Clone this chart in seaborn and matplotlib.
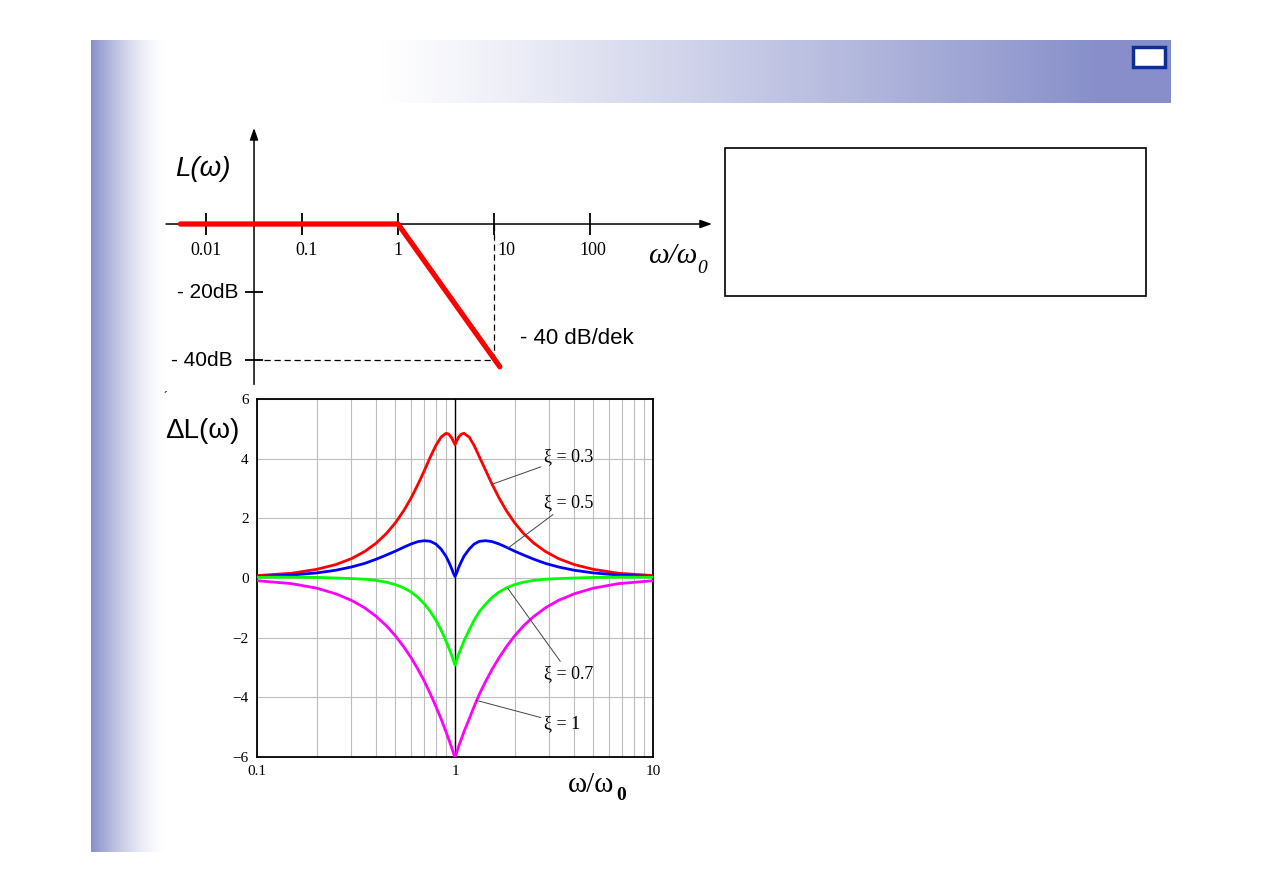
import numpy as np
import pandas as pd
import matplotlib
matplotlib.use("Agg")
import matplotlib.pyplot as plt
import seaborn as sns
from matplotlib.patches import Rectangle

# upper sketch: asymptotic L(w) of a 2nd order lag
asym_omega = [0.0054, 1.0, 11.5]
asym_L = [0.0, 0.0, -42.0]
top_ticks = [0.01, 0.1, 1, 10, 100]
top_tick_labels = ["0.01", "0.1", "1", "10", "100"]
db_ticks = [-20, -40]
db_tick_labels = ["- 20dB", "- 40dB"]

# lower chart: correction dL(w) for several damping ratios
omega = [0.1, 0.15, 0.2, 0.25, 0.3, 0.35, 0.4, 0.45, 0.5, 0.55, 0.6, 0.65, 0.7,
         0.75, 0.8, 0.85, 0.9, 0.93, 0.96, 0.98, 1.0, 1.02, 1.04, 1.075, 1.11,
         1.18, 1.25, 1.33, 1.43, 1.54, 1.67, 1.82, 2.0, 2.22, 2.5, 2.86, 3.33,
         4.0, 5.0, 6.67, 10.0]
dL_03 = [0.08, 0.16, 0.29, 0.45, 0.65, 0.89, 1.17, 1.49, 1.85, 2.25, 2.68, 3.14,
         3.60, 4.05, 4.44, 4.72, 4.85, 4.82, 4.71, 4.59, 4.47, 4.59, 4.71, 4.82,
         4.85, 4.72, 4.44, 4.05, 3.60, 3.14, 2.68, 2.25, 1.85, 1.49, 1.17, 0.89,
         0.65, 0.45, 0.29, 0.16, 0.08]
dL_05 = [0.05, 0.10, 0.17, 0.26, 0.37, 0.49, 0.63, 0.77, 0.90, 1.03, 1.14, 1.22,
         1.25, 1.23, 1.14, 0.97, 0.73, 0.54, 0.33, 0.17, 0.05, 0.17, 0.33, 0.54,
         0.73, 0.97, 1.14, 1.23, 1.25, 1.22, 1.14, 1.03, 0.90, 0.77, 0.63, 0.49,
         0.37, 0.26, 0.17, 0.10, 0.05]
dL_07 = [0.03, 0.03, 0.02, 0.0, -0.02, -0.04, -0.08, -0.14, -0.22, -0.33, -0.47,
         -0.65, -0.87, -1.12, -1.41, -1.74, -2.11, -2.34, -2.58, -2.75, -2.92,
         -2.75, -2.58, -2.34, -2.11, -1.74, -1.41, -1.12, -0.87, -0.65, -0.47,
         -0.33, -0.22, -0.14, -0.08, -0.04, -0.02, 0.0, 0.02, 0.03, 0.03]
dL_10 = [-0.09, -0.19, -0.34, -0.53, -0.75, -1.00, -1.29, -1.60, -1.94, -2.30,
         -2.67, -3.06, -3.46, -3.88, -4.30, -4.72, -5.15, -5.41, -5.67, -5.85,
         -6.02, -5.85, -5.67, -5.41, -5.15, -4.72, -4.30, -3.88, -3.46, -3.06,
         -2.67, -2.30, -1.94, -1.60, -1.29, -1.00, -0.75, -0.53, -0.34, -0.19,
         -0.09]
xi_names = ["ξ = 0.3", "ξ = 0.5", "ξ = 0.7", "ξ = 1"]
xi_colors = ["#ff0000", "#0000ff", "#00ff00", "#ff00ff"]
y_ticks = [6, 4, 2, 0, -2, -4, -6]
y_tick_labels = ["6", "4", "2", "0", "\u22122", "\u22124", "\u22126"]
x_ticks = [0.1, 1, 10]
x_tick_labels = ["0.1", "1", "10"]

sns.set_style("white")
plt.rcParams["font.family"] = ["Liberation Sans", "DejaVu Sans"]
plt.rcParams["text.color"] = "black"
plt.rcParams["xtick.color"] = "black"
plt.rcParams["ytick.color"] = "black"

W, H = 1263, 893
fig = plt.figure(figsize=(W / 100, H / 100), dpi=100, facecolor="white")


def px_axes(x0, y0, x1, y1, **kw):
    return fig.add_axes([x0 / W, 1 - y1 / H, (x1 - x0) / W, (y1 - y0) / H], **kw)


# slide background
bg = px_axes(0, 0, W, H, zorder=-5)
bg.set_xlim(0, W)
bg.set_ylim(H, 0)
bg.axis("off")
blue = np.array([0.53, 0.56, 0.79])
white = np.ones(3)
xs = np.linspace(91, 1171, 600)
t = (np.clip((xs - 380) / 720, 0, 1) ** 1.1)[:, None]
band = (white * (1 - t) + blue * t)[None, :, :]
bg.imshow(band, extent=(91, 1171, 103, 40), aspect="auto", interpolation="bilinear")
s = np.linspace(0, 1, 200)
tl = ((1 - s) ** 1.5)[:, None]
strip = (white * (1 - tl) + blue * tl)[None, :, :]
bg.imshow(strip, extent=(91, 165, 852, 40), aspect="auto", interpolation="bilinear")
bg.add_patch(Rectangle((1133, 47), 32, 20, facecolor="white", edgecolor="#0d2f8f", lw=2.5))
bg.add_patch(Rectangle((725, 148), 421, 148, fill=False, edgecolor="black", lw=1.2))
bg.text(166, 398, "\u00b4", fontsize=9, ha="center", va="center")

# ---- upper sketch ----
ax1 = px_axes(166, 128, 712, 387)
ax1.set_xscale("log")
ax1.set_xlim(10 ** -2.417, 10 ** 3.271)
ax1.set_ylim(-47.94, 28.24)
ax1.axis("off")
yaxis_x = 10 ** -1.5

ax1.annotate("", xy=(1, 0), xytext=(0, 0), xycoords=("axes fraction", "data"),
             arrowprops=dict(arrowstyle="-|>,head_length=0.7,head_width=0.25",
                             color="black", lw=1.1, shrinkA=0, shrinkB=0))
ax1.annotate("", xy=(yaxis_x, 1), xytext=(yaxis_x, 0.01), xycoords=("data", "axes fraction"),
             arrowprops=dict(arrowstyle="-|>,head_length=0.7,head_width=0.25",
                             color="black", lw=1.1, shrinkA=0, shrinkB=0))
ax1.vlines(top_ticks, -3.3, 3.3, color="black", lw=1.3)
ax1.hlines(db_ticks, 10 ** (-1.5 - 9 / 96), 10 ** (-1.5 + 9 / 96), color="black", lw=1.3)
ax1.plot([top_ticks[3], top_ticks[3]], [0, db_ticks[1]], color="black", lw=0.9,
         dashes=(5, 3))
ax1.plot([10 ** -1.4, top_ticks[3]], [db_ticks[1], db_ticks[1]], color="black", lw=0.9,
         dashes=(5, 3))
sns.lineplot(x=asym_omega, y=asym_L, ax=ax1, color="red", lw=3.8, sort=False,
             solid_capstyle="round", zorder=5)

label_dx = [0, 5, 0, 12, 3]
for tk, lb, dx in zip(top_ticks, top_tick_labels, label_dx):
    ax1.annotate(lb, xy=(tk, 0), xytext=(dx, -26), textcoords="offset pixels",
                 ha="center", va="center", fontsize=13, family="Liberation Serif")
for tk, lb, dx in zip(db_ticks, db_tick_labels, [-16, -21]):
    ax1.annotate(lb, xy=(yaxis_x, tk), xytext=(dx, 0), textcoords="offset pixels",
                 ha="right", va="center", fontsize=15)

fig.text(175 / W, 1 - 169 / H, "L(ω)", fontsize=20, style="italic", ha="left", va="center")
fig.text(648 / W, 1 - 256 / H, "ω/ω", fontsize=21, style="italic",
         family="Liberation Serif", ha="left", va="center")
fig.text(697 / W, 1 - 268 / H, "0", fontsize=14, style="italic",
         family="Liberation Serif", ha="left", va="center")
fig.text(520 / W, 1 - 338 / H, "- 40 dB/dek", fontsize=16, ha="left", va="center")

# ---- lower chart ----
df = pd.DataFrame({
    "omega": omega * 4,
    "dL": dL_03 + dL_05 + dL_07 + dL_10,
    "xi": [n for n in xi_names for _ in omega],
})
ax2 = px_axes(257, 399, 653, 757)
ax2.set_xscale("log")
ax2.axvline(1, color="black", lw=1.0, zorder=1.5)
sns.lineplot(data=df, x="omega", y="dL", hue="xi", palette=xi_colors, ax=ax2,
             lw=2.0, legend=False, zorder=3)
ax2.set_xlim(0.1, 10)
ax2.set_ylim(-6, 6)
ax2.set_xticks(x_ticks)
ax2.set_xticklabels(x_tick_labels)
ax2.xaxis.set_minor_formatter(matplotlib.ticker.NullFormatter())
ax2.set_yticks(y_ticks)
ax2.set_yticklabels(y_tick_labels)
ax2.grid(which="both", axis="x", color="#bdbdbd", lw=0.8)
ax2.grid(which="major", axis="y", color="#bdbdbd", lw=0.8)
ax2.tick_params(which="both", length=0, labelsize=11, pad=6)
for lab in ax2.get_xticklabels() + ax2.get_yticklabels():
    lab.set_family("Liberation Serif")
for sp in ax2.spines.values():
    sp.set_color("black")
    sp.set_linewidth(1.3)
ax2.set_xlabel("")
ax2.set_ylabel("")

annots = [((1.55, 3.15), (2.82, 4.06)), ((1.85, 1.0), (2.82, 2.52)),
          ((1.85, -0.35), (2.82, -3.19)), ((1.28, -4.1), (2.82, -4.87))]
for name, (xy, xyt) in zip(xi_names, annots):
    ax2.annotate(name, xy=xy, xytext=xyt, ha="left", va="center", fontsize=13,
                 family="Liberation Serif",
                 arrowprops=dict(arrowstyle="-", color="#444444", lw=0.7,
                                 shrinkA=0, shrinkB=0))

fig.text(165 / W, 1 - 431 / H, "ΔL(ω)", fontsize=20, ha="left", va="center")
fig.text(568 / W, 1 - 785 / H, "ω/ω", fontsize=21, family="Liberation Serif",
         ha="left", va="center")
fig.text(616 / W, 1 - 796 / H, "0", fontsize=14, weight="bold",
         family="Liberation Serif", ha="left", va="center")

fig.savefig("out.png", dpi=100, facecolor="white")
